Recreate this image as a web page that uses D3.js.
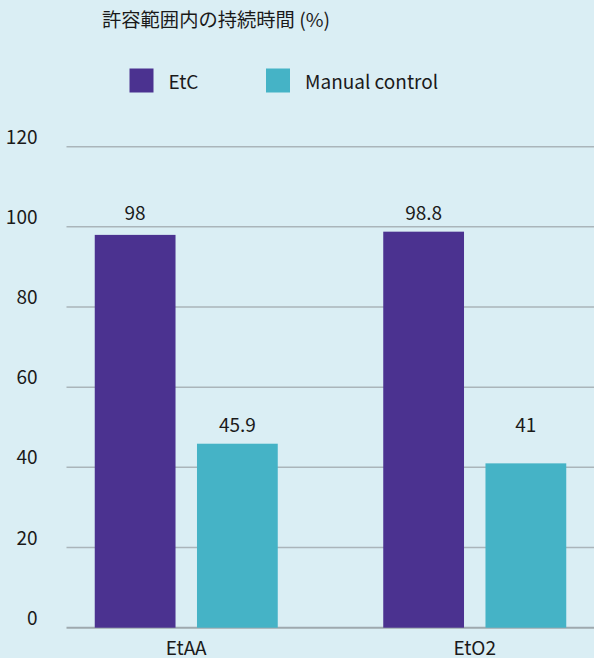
<!DOCTYPE html>
<html>
<head>
<meta charset="utf-8">
<script src="https://cdn.jsdelivr.net/npm/d3@7"></script>
<style>
  html, body { margin: 0; padding: 0; background: #daeef4; }
  svg { display: block; }
  text { font-family: "Noto Sans CJK JP", "Noto Sans", sans-serif; fill: #1a1a1a; }
</style>
</head>
<body>
<script>
const title = "許容範囲内の持続時間 (%)";
const categories = ["EtAA", "EtO2"];
const seriesNames = ["EtC", "Manual control"];
const etcValues = [98, 98.8];
const manualValues = [45.9, 41];
const yTicks = [0, 20, 40, 60, 80, 100, 120];
const colors = ["#4b3290", "#45b3c6"];

const W = 594, H = 658;
const svg = d3.select("body").append("svg").attr("width", W).attr("height", H);
svg.append("rect").attr("width", W).attr("height", H).attr("fill", "#daeef4");

const seriesValues = [etcValues, manualValues];

const y = d3.scaleLinear().domain([0, 120]).range([627.7, 146.7]);
const x = d3.scaleBand().domain(categories).range([42, 619]).paddingInner(0).paddingOuter(0);
const xInner = d3.scaleBand().domain(seriesNames).range([0, 183]).paddingInner(0.21).paddingOuter(0);
const groupOffset = (x.bandwidth() - 183) / 2;

// gridlines
svg.append("g").selectAll("line").data(yTicks).join("line")
  .attr("x1", 66.5).attr("x2", W)
  .attr("y1", d => y(d)).attr("y2", d => y(d))
  .attr("stroke", d => d === 0 ? "#9ea9ae" : "#aab5ba")
  .attr("stroke-width", d => d === 0 ? 2 : 1.5);

// y tick labels
svg.append("g").selectAll("text").data(yTicks).join("text")
  .attr("x", 37.5).attr("y", d => y(d) - 3)
  .attr("text-anchor", "end")
  .attr("font-size", 19)
  .text(d => d);

// bars
const rows = [];
categories.forEach((c, i) => seriesNames.forEach((s, j) => rows.push({c, s, j, v: seriesValues[j][i]})));

svg.append("g").selectAll("rect").data(rows).join("rect")
  .attr("x", d => x(d.c) + groupOffset + xInner(d.s))
  .attr("width", xInner.bandwidth())
  .attr("y", d => y(d.v))
  .attr("height", d => y(0) - y(d.v))
  .attr("fill", d => colors[d.j]);

// value labels (aligned per series at the series maximum)
svg.append("g").selectAll("text").data(rows).join("text")
  .attr("x", d => x(d.c) + groupOffset + xInner(d.s) + xInner.bandwidth() / 2)
  .attr("y", d => y(d3.max(seriesValues[d.j])) - 12)
  .attr("text-anchor", "middle")
  .attr("font-size", 19)
  .text(d => d.v);

// x labels
svg.append("g").selectAll("text").data(categories).join("text")
  .attr("x", d => x(d) + x.bandwidth() / 2)
  .attr("y", 655)
  .attr("text-anchor", "middle")
  .attr("font-size", 19)
  .text(d => d);

// title
svg.append("text").attr("x", 216).attr("y", 19)
  .attr("text-anchor", "middle").attr("dominant-baseline", "central")
  .attr("font-size", 19.3)
  .text(title);

// legend
const legendX = [129.5, 266];
const lg = svg.append("g").selectAll("g").data(seriesNames).join("g")
  .attr("transform", (d, i) => `translate(${legendX[i]},68.5)`);
lg.append("rect").attr("width", 24).attr("height", 24).attr("fill", (d, i) => colors[i]);
lg.append("text").attr("x", 39).attr("y", 20.5)
  .attr("font-size", 19).text(d => d);
</script>
</body>
</html>
